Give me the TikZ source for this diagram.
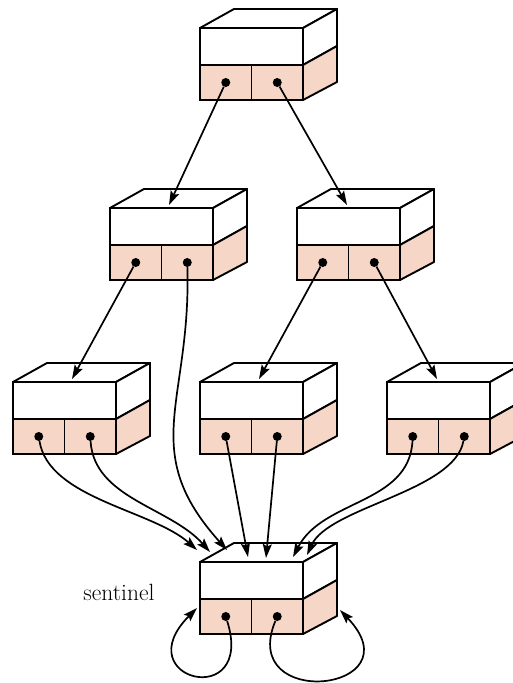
\documentclass[tikz,border=0pt]{standalone}
\usepackage{tikz}
\usetikzlibrary{arrows.meta, positioning, calc}
\definecolor{cellpeach}{RGB}{246,214,198}

\begin{document}
\begin{tikzpicture}[
    x=1pt, y=-1pt,
    head/.style={rectangle, draw, line width=1.9pt, fill=white, minimum width=103pt, minimum height=37pt, inner sep=0pt, outer sep=0pt},
    cell/.style={rectangle, draw, line width=1.9pt, fill=cellpeach, minimum width=51.5pt, minimum height=35pt, inner sep=0pt, outer sep=0pt},
    dot/.style={circle, fill=black, minimum size=9pt, inner sep=0pt},
    face/.style={draw, line width=1.9pt, line join=round},
    arr/.style={-{Stealth[length=14pt, width=9pt, inset=2.5pt]}, line width=1.7pt},
    lbl/.style={font=\fontsize{23.5}{28}\selectfont},
    listbox/.pic={
        \node[head] (-h) at (51.5,18.5) {};
        \node[cell] (-lc) at (25.75,54.5) {};
        \node[cell] (-rc) at (77.25,54.5) {};
        \draw[face, fill=white] (-h.north west) -- ++(34,-19) -- ++(103,0) -- (-h.north east) -- cycle;
        \draw[face, fill=white] (-h.north east) -- ++(34,-19) -- ++(0,37) -- (-h.south east) -- cycle;
        \draw[face, fill=cellpeach] (-h.south east) -- ++(34,-19) -- ++(0,36) -- (-rc.south east) -- cycle;
        \node[dot] (-l) at (-lc) {};
        \node[dot] (-r) at (-rc) {};
        \coordinate (-inl) at (59,-3);
        \coordinate (-inr) at (50,-3);
    }
]
\useasboundingbox (0,0) rectangle (513,683);

% the boxes
\pic (t) at (200,28) {listbox};
\pic (a) at (110,208) {listbox};
\pic (b) at (297,208) {listbox};
\pic (c) at (13,382) {listbox};
\pic (d) at (200,382) {listbox};
\pic (e) at (387,382) {listbox};
\pic (s) at (200,562) {listbox};

\node[lbl, anchor=base east] (sent) at ($(s-h.south west)+(-42,1)$) {sentinel};

% where the arrows land on the sentinel
\coordinate (s1) at ($(s-h.north west)+(-3,-12)$);
\coordinate (s2) at ($(s-h.north west)+(10,-10)$);
\coordinate (s3) at ($(s-h.north west)+(27,-12)$);
\coordinate (s4) at ($(s-h.north west)+(48,-5)$);
\coordinate (s5) at ($(s-h.north west)+(66,-4)$);
\coordinate (s6) at ($(s-h.north west)+(93,-5)$);
\coordinate (s7) at ($(s-h.north west)+(107,-7)$);
\coordinate (s8) at ($(s-h.north west)+(-3,46)$);
\coordinate (s9) at ($(s-h.north west)+(140,48)$);

% tree links
\draw[arr] (t-l) -- (a-inl);
\draw[arr] (t-r) -- (b-inr);
\draw[arr] (a-l) -- (c-inl);
\draw[arr] (b-l) -- (d-inl);
\draw[arr] (b-r) -- (e-inr);

% links to the sentinel
\draw[arr] (c-l) .. controls +(10,62) and +(-45,-40) .. (s1);
\draw[arr] (c-r) .. controls +(4,62) and +(-40,-45) .. (s2);
\draw[arr] (a-r) .. controls +(4,140) and +(-90,-100) .. (s3);
\draw[arr] (d-l) -- (s4);
\draw[arr] (d-r) -- (s5);
\draw[arr] (e-l) .. controls +(-4,68) and +(30,-58) .. (s6);
\draw[arr] (e-r) .. controls +(-10,55) and +(22,-48) .. (s7);
\draw[arr] (s-l) .. controls +(30,95) and +(-72,72) .. (s8);
\draw[arr] (s-r) .. controls +(-40,95) and +(78,82) .. (s9);
\end{tikzpicture}
\end{document}
